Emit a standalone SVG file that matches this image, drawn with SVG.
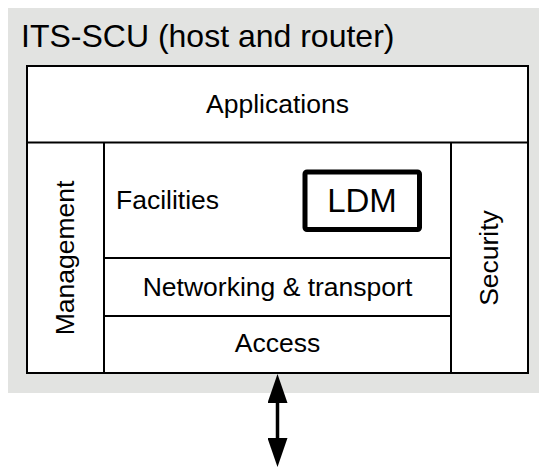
<svg xmlns="http://www.w3.org/2000/svg" width="539" height="468" viewBox="0 0 539 468">
<style>
  .t { font-family: "Liberation Sans", Arial, sans-serif; fill: #000; }
  .box { fill: #fff; stroke: #000; stroke-width: 2; }
  .ln { stroke: #000; stroke-width: 2; fill: none; }
</style>
<defs>
  <marker id="head" viewBox="0 0 29 20" refX="10" refY="10" markerWidth="29" markerHeight="20" markerUnits="userSpaceOnUse" orient="auto-start-reverse">
    <path d="M0,0 L29,10 L0,20 z" fill="#000"/>
  </marker>
</defs>
<rect x="0" y="0" width="539" height="468" fill="#fff"/>
<g id="its-scu">
  <rect x="8" y="8" width="531" height="385" fill="#e2e3e1"/>
  <text class="t" x="21" y="47" font-size="32">ITS-SCU (host and router)</text>
  <rect class="box" x="27" y="66" width="501" height="307"/>
</g>
<g id="applications">
  <line class="ln" x1="27" y1="142.5" x2="528" y2="142.5"/>
  <text class="t" x="277.5" y="113" font-size="26.5" text-anchor="middle">Applications</text>
</g>
<g id="management">
  <line class="ln" x1="104" y1="142.5" x2="104" y2="373"/>
  <text class="t" x="0" y="0" font-size="26.5" text-anchor="middle" transform="translate(73.5,258) rotate(-90)">Management</text>
</g>
<g id="security">
  <line class="ln" x1="451" y1="142.5" x2="451" y2="373"/>
  <text class="t" x="0" y="0" font-size="26.5" text-anchor="middle" transform="translate(497.5,258) rotate(-90)">Security</text>
</g>
<g id="facilities">
  <text class="t" x="116" y="209" font-size="26.5">Facilities</text>
</g>
<g id="ldm">
  <rect x="305" y="172" width="114.5" height="57.5" rx="2" fill="#fff" stroke="#000" stroke-width="5"/>
  <text class="t" x="362" y="212" font-size="33" text-anchor="middle">LDM</text>
</g>
<g id="networking">
  <line class="ln" x1="104" y1="258" x2="451" y2="258"/>
  <text class="t" x="277.5" y="296" font-size="26.5" text-anchor="middle">Networking &amp; transport</text>
</g>
<g id="access">
  <line class="ln" x1="104" y1="316" x2="451" y2="316"/>
  <text class="t" x="277.5" y="352" font-size="26.5" text-anchor="middle">Access</text>
</g>
<g id="connectors">
  <line x1="277.5" y1="393" x2="277.5" y2="448" stroke="#000" stroke-width="3.5" marker-start="url(#head)" marker-end="url(#head)"/>
</g>
</svg>
